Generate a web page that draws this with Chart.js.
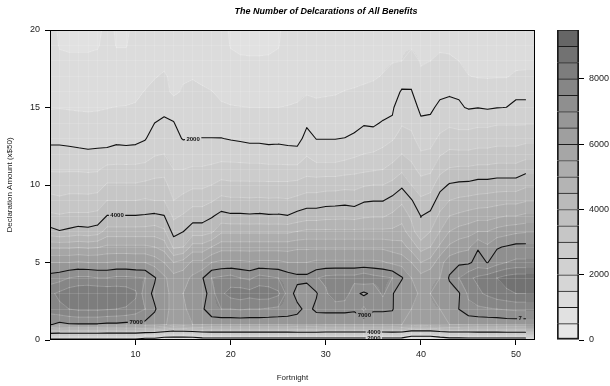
<!DOCTYPE html>
<html>
<head>
<meta charset="utf-8">
<script src="https://cdn.jsdelivr.net/npm/chart.js@4.4.1/dist/chart.umd.min.js"></script>
<style>
  html, body { margin: 0; padding: 0; background: #fff; overflow: hidden; }
  #wrap { position: relative; width: 610px; height: 386px; overflow: hidden; }
  #main { position: absolute; left: 0; top: 0; }
  #key { position: absolute; left: 540px; top: 0; }
</style>
</head>
<body>
<div id="wrap">
  <canvas id="main" width="652" height="386"></canvas>
  <canvas id="key" width="70" height="386"></canvas>
</div>
<script>
// ── Data ──
const fortnights = [1,2,3,4,5,6,7,8,9,10,11,12,13,14,15,16,17,18,19,20,21,22,23,24,25,26,
  27,28,29,30,31,32,33,34,35,36,37,38,39,40,41,42,43,44,45,46,47,48,49,50,51];
const amounts = [0,1,2,3,4,5,6,7,8,9,10,11,12,13,14,15,16,17,18,19,20];

// number of declarations, one row per declaration amount, one value per fortnight
const amt0 = [1700,1700,1700,1700,1700,1700,1700,1700,1700,1700, 1400,1400,1000,1000,1000,1000,1300,1300,1300,1300,
  1300,1300,1300,1300,1300,1300,1300,1300,1300,1300, 1300,1300,1300,1300,1300,1300,1300,1300,600,600,
  600,1000,1300,1300,1300,1300,1300,1300,1300,1300, 1300];
const amt1 = [7050,6850,6950,6950,6950,6950,6900,6900,6850,6850, 6850,6800,6600,6200,6300,6500,6500,6600,6600,6600,
  6600,6600,6600,6600,6600,6600,6700,6700,6650,6550, 6550,6550,6550,6550,6550,6550,6600,6500,6400,6300,
  6400,6450,6500,6500,6550,6600,6600,6600,6650,6650, 6650];
const amt2 = [7700,7900,8000,8100,8100,8100,8050,8000,7950,7800, 7500,7050,6700,6300,6400,6700,6900,7400,7500,7500,
  7550,7500,7500,7450,7400,7350,7150,6850,7100,7150, 7150,7150,7100,7600,7100,7100,7050,6500,6500,6300,
  6400,6500,6500,7010,7350,7400,7450,7500,7550,7600, 7600];
const amt3 = [7900,8100,8300,8400,8450,8450,8400,8350,8300,8100, 7200,6900,6600,6400,6500,6700,6700,7300,7900,8200,
  8300,8200,8300,8300,8100,7300,6800,6700,6950,7400, 7900,7800,7150,6900,7150,7600,7050,6600,6700,6400,
  6500,6800,6800,6950,7600,7900,8100,8300,8400,8500, 8500];
const amt4 = [7200,7300,7500,7600,7600,7500,7500,7600,7600,7550, 7500,7050,6600,6200,6300,6600,6950,7500,7600,7700,
  7500,7400,7700,7600,7500,7300,7150,7150,7450,7650, 7700,7700,7700,7900,7700,7600,7500,7050,6500,6200,
  6400,6500,7050,7500,7900,8100,8300,8500,8700,8800, 8800];
const amt5 = [6500,6500,6500,6550,6500,6500,6500,6550,6550,6500, 6500,6300,6000,5500,5700,6100,6100,6500,6600,6600,
  6600,6550,6600,6600,6600,6500,6500,6500,6600,6600, 6600,6600,6600,6600,6600,6550,6400,6300,6000,5500,
  5700,6300,6800,6900,6900,7200,6980,7300,7500,7600, 7600];
const amt6 = [5400,5400,5400,5450,5400,5450,5600,5600,5600,5600, 5600,5500,5300,4400,4500,5200,5200,5500,5800,5800,
  5800,5800,5800,5800,5800,5800,5900,5900,5900,5900, 5900,5900,5900,5900,5900,5900,5800,5700,5300,4800,
  5000,5600,6100,6300,6400,6950,6600,6950,7050,7150, 7150];
const amt7 = [4150,4030,4100,4200,4150,4250,4700,4700,4700,4700, 4700,4750,4600,3800,3990,4250,4250,4400,4900,4900,
  4900,4900,4900,4900,4900,4900,5000,5100,5100,5100, 5100,5100,5100,5100,5100,5100,5100,5200,4700,4100,
  4500,5000,5500,5700,5800,6000,6000,6200,6300,6400, 6450];
const amt8 = [3600,3550,3600,3600,3600,3650,4020,4020,4020,4020, 4050,4100,4020,3400,3550,3800,3800,3950,4150,4080,
  4080,4060,4080,4050,4060,4020,4150,4250,4250,4320, 4330,4350,4320,4420,4450,4450,4600,4800,4400,3990,
  4150,4600,5000,5100,5200,5300,5300,5400,5500,5500, 5600];
const amt9 = [3150,3100,3150,3150,3150,3200,3500,3500,3500,3500, 3550,3500,3500,3000,3150,3300,3300,3450,3650,3600,
  3600,3580,3600,3570,3580,3550,3650,3750,3750,3800, 3820,3850,3800,3950,3980,3980,4150,4400,4050,3600,
  3700,4250,4500,4600,4650,4700,4750,4800,4850,4850, 4950];
const amt10 = [2800,2750,2800,2800,2780,2800,3050,3050,3050,3050, 3100,3150,3150,2750,2800,2900,2900,3000,3150,3100,
  3100,3100,3100,3100,3100,3100,3150,3250,3250,3300, 3300,3350,3350,3450,3500,3500,3650,3900,3500,3200,
  3300,3800,4050,4100,4120,4200,4200,4250,4250,4250, 4400];
const amt11 = [2450,2450,2450,2450,2430,2450,2650,2650,2650,2650, 2700,2800,2850,2500,2500,2550,2550,2600,2700,2700,
  2700,2680,2680,2650,2650,2650,2650,2800,2750,2750, 2750,2800,2850,2900,2950,3000,3150,3400,3150,2850,
  2900,3350,3550,3600,3600,3650,3650,3700,3700,3700, 3850];
const amt12 = [2180,2180,2150,2120,2090,2110,2130,2200,2180,2200, 2250,2450,2500,2300,2300,2300,2300,2300,2300,2280,
  2250,2230,2230,2200,2200,2160,2150,2450,2200,2200, 2200,2300,2400,2500,2550,2650,2800,3000,2850,2550,
  2600,2950,3100,3100,3100,3150,3150,3200,3200,3200, 3300];
const amt13 = [1870,1870,1850,1820,1800,1810,1820,1870,1850,1870, 1970,2200,2300,2150,1970,2010,2010,2010,2010,1970,
  1940,1900,1900,1870,1890,1870,1850,2140,1990,1990, 1990,2010,2060,2150,2150,2300,2450,2700,2600,2300,
  2300,2600,2750,2700,2700,2750,2750,2800,2800,2800, 2850];
const amt14 = [1620,1620,1610,1600,1600,1600,1610,1630,1630,1650, 1750,2000,2080,2020,1780,1800,1800,1800,1780,1750,
  1720,1700,1700,1680,1680,1660,1650,1940,1780,1780, 1780,1800,1900,1970,1950,2030,2040,2450,2400,2080,
  2050,2300,2400,2350,2350,2400,2400,2450,2450,2450, 2450];
const amt15 = [1480,1490,1480,1470,1460,1470,1490,1510,1520,1540, 1600,1800,1880,1800,1640,1660,1660,1620,1540,1520,
  1510,1500,1500,1500,1500,1510,1520,1580,1560,1570, 1580,1610,1640,1680,1720,1850,1960,2200,2200,1900,
  1960,2050,2100,2060,1960,1990,1950,1990,2005,2080, 2080];
const amt16 = [1370,1300,1260,1240,1250,1280,1340,1340,1360,1420, 1520,1600,1650,1400,1560,1580,1560,1510,1440,1400,
  1380,1370,1370,1380,1400,1430,1460,1480,1460,1470, 1480,1510,1530,1560,1600,1660,1800,2050,2030,1700,
  1730,1950,1960,1940,1700,1720,1700,1720,1740,1920, 1920];
const amt17 = [1270,1150,1130,1120,1120,1140,1220,1150,1160,1250, 1380,1480,1540,1420,1440,1480,1420,1380,1300,1180,
  1150,1140,1140,1150,1170,1260,1310,1350,1350,1360, 1370,1400,1420,1440,1460,1520,1620,1780,1850,1540,
  1580,1700,1660,1620,1510,1480,1470,1480,1480,1560, 1560];
const amt18 = [1200,1060,1050,1050,1050,1060,1150,1060,1060,1150, 1250,1380,1420,1380,1350,1320,1280,1230,1150,1040,
  1020,1020,1020,1020,1040,1150,1220,1270,1270,1270, 1280,1300,1330,1360,1390,1430,1480,1500,1600,1480,
  1500,1560,1540,1500,1420,1400,1380,1380,1380,1400, 1420];
const amt19 = [1150,980,960,960,960,980,1080,990,990,1080, 1200,1300,1350,1300,1280,1250,1200,1150,1080,990,
  970,960,960,970,990,1080,1150,1200,1200,1200, 1200,1220,1250,1280,1300,1350,1400,1470,1470,1420,
  1420,1450,1450,1400,1350,1320,1300,1300,1300,1320, 1330];
const amt20 = [1100,960,930,920,930,960,1050,980,970,1050, 1150,1200,1250,1200,1200,1150,1150,1100,1050,980,
  950,940,940,950,980,1050,1100,1150,1150,1150, 1150,1150,1200,1200,1250,1250,1300,1350,1400,1300,
  1300,1400,1350,1300,1250,1250,1250,1250,1250,1250, 1250];

const declarations = [amt0, amt1, amt2, amt3, amt4, amt5, amt6, amt7, amt8, amt9, amt10,
  amt11, amt12, amt13, amt14, amt15, amt16, amt17, amt18, amt19, amt20];

const levels = [0,500,1000,1500,2000,2500,3000,3500,4000,4500,5000,5500,6000,6500,7000,7500,8000,8500,9000,9500];
const lineLevels = [2000, 4000, 7000];
const keyTicks = [0, 2000, 4000, 6000, 8000];
const xTickLabels = [10, 20, 30, 40, 50];
const yTickLabels = [0, 5, 10, 15, 20];

const contourLabels = [
  { text: '2000', x: 16.05, y: 12.97 },
  { text: '4000', x: 8.05, y: 8.05 },
  { text: '7000', x: 10.05, y: 1.2 },
  { text: '7000', x: 34.05, y: 1.62 },
  { text: '4000', x: 35.05, y: 0.52 },
  { text: '2000', x: 35.05, y: 0.13 },
  { text: '7', x: 50.45, y: 1.45 },
];

// ── Palette (light for few, dark for many) ──
const GAMMA = 2.2;
function bandGray(k, n) {
  const s = Math.pow(0.4, GAMMA), e = Math.pow(0.9, GAMMA);
  return Math.round(255 * Math.pow(e - (e - s) * k / (n - 1), 1 / GAMMA));
}
const bandCount = levels.length - 1;
const bandGrays = levels.slice(0, -1).map((_, k) => bandGray(k, bandCount));
const bandColors = bandGrays.map(g => `rgb(${g},${g},${g})`);

function bandOf(z) {
  for (let k = bandCount - 1; k >= 0; k--) if (z >= levels[k]) return k;
  return 0;
}

// ── Helpers ──
function locate(arr, v) {
  const n = arr.length;
  if (v <= arr[0]) return [0, 0];
  if (v >= arr[n - 1]) return [n - 2, 1];
  let i = 0;
  while (i < n - 2 && v > arr[i + 1]) i++;
  return [i, (v - arr[i]) / (arr[i + 1] - arr[i])];
}

function contourSegments(level) {
  const segs = [];
  const cut = (z1, z2) => ((z1 >= level) !== (z2 >= level)) ? (level - z1) / (z2 - z1) : null;
  for (let j = 0; j < amounts.length - 1; j++) {
    for (let i = 0; i < fortnights.length - 1; i++) {
      const x0 = fortnights[i], x1 = fortnights[i + 1], y0 = amounts[j], y1 = amounts[j + 1];
      const a = declarations[j][i], b = declarations[j][i + 1];
      const c = declarations[j + 1][i + 1], d = declarations[j + 1][i];
      const p = {};
      let t;
      if ((t = cut(a, b)) !== null) p.B = [x0 + t * (x1 - x0), y0];
      if ((t = cut(b, c)) !== null) p.R = [x1, y0 + t * (y1 - y0)];
      if ((t = cut(d, c)) !== null) p.T = [x0 + t * (x1 - x0), y1];
      if ((t = cut(a, d)) !== null) p.L = [x0, y0 + t * (y1 - y0)];
      const keys = Object.keys(p);
      if (keys.length === 2) {
        segs.push([p[keys[0]], p[keys[1]]]);
      } else if (keys.length === 4) {
        const centre = (a + b + c + d) / 4;
        if ((centre >= level) === (a >= level)) segs.push([p.B, p.R], [p.T, p.L]);
        else segs.push([p.L, p.B], [p.R, p.T]);
      }
    }
  }
  return segs;
}

function strokeSegments(ctx, segs, xs, ys) {
  ctx.beginPath();
  segs.forEach(([p, q]) => {
    ctx.moveTo(xs.getPixelForValue(p[0]), ys.getPixelForValue(p[1]));
    ctx.lineTo(xs.getPixelForValue(q[0]), ys.getPixelForValue(q[1]));
  });
  ctx.stroke();
}

// ── Plugins ──
const filledField = {
  id: 'filledField',
  beforeDraw(chart) {
    const { ctx, chartArea: a, scales: { x, y } } = chart;
    const left = Math.round(a.left), top = Math.round(a.top);
    const w = Math.round(a.right) - left, h = Math.round(a.bottom) - top;
    const img = ctx.createImageData(w, h);
    const cols = [], rows = [];
    for (let i = 0; i < w; i++) cols.push(locate(fortnights, x.getValueForPixel(left + i + 0.5)));
    for (let j = 0; j < h; j++) rows.push(locate(amounts, y.getValueForPixel(top + j + 0.5)));
    for (let j = 0; j < h; j++) {
      const [yj, yt] = rows[j];
      const r0 = declarations[yj], r1 = declarations[yj + 1];
      for (let i = 0; i < w; i++) {
        const [xi, xt] = cols[i];
        const z = (r0[xi] * (1 - xt) + r0[xi + 1] * xt) * (1 - yt) + (r1[xi] * (1 - xt) + r1[xi + 1] * xt) * yt;
        const g = bandGrays[bandOf(z)];
        const o = (j * w + i) * 4;
        img.data[o] = g; img.data[o + 1] = g; img.data[o + 2] = g; img.data[o + 3] = 255;
      }
    }
    ctx.putImageData(img, left, top);
  },
  afterDatasetsDraw(chart) {
    const { ctx, chartArea: a, scales: { x, y } } = chart;
    ctx.save();
    ctx.beginPath();
    ctx.rect(a.left, a.top, a.right - a.left, a.bottom - a.top);
    ctx.clip();
    ctx.lineCap = 'round';
    ctx.lineJoin = 'round';

    // faint seams along every band edge
    ctx.strokeStyle = 'rgba(255,255,255,0.28)';
    ctx.lineWidth = 0.7;
    levels.slice(1).forEach(l => {
      if (!lineLevels.includes(l)) strokeSegments(ctx, contourSegments(l), x, y);
    });

    // labelled contour lines, broken where the labels sit
    ctx.font = 'bold 6px "Liberation Sans", Arial, sans-serif';
    const boxes = contourLabels.map(lb => {
      const tw = ctx.measureText(lb.text).width;
      return { ...lb, px: x.getPixelForValue(lb.x), py: y.getPixelForValue(lb.y), w: tw + 3, h: 6 };
    });
    ctx.save();
    ctx.beginPath();
    ctx.rect(a.left, a.top, a.right - a.left, a.bottom - a.top);
    boxes.forEach(b => ctx.rect(b.px - b.w / 2, b.py - b.h / 2, b.w, b.h));
    ctx.clip('evenodd');
    ctx.strokeStyle = '#111';
    ctx.lineWidth = 1.1;
    lineLevels.forEach(l => strokeSegments(ctx, contourSegments(l), x, y));
    ctx.restore();

    ctx.fillStyle = '#111';
    ctx.textAlign = 'center';
    ctx.textBaseline = 'middle';
    boxes.forEach(b => ctx.fillText(b.text, b.px, b.py + 0.5));
    ctx.restore();
  },
  afterDraw(chart) {
    const { ctx, chartArea: a } = chart;
    ctx.save();
    ctx.strokeStyle = '#000';
    ctx.lineWidth = 1;
    ctx.strokeRect(a.left + 0.5, a.top + 0.5, a.right - a.left - 1, a.bottom - a.top - 1);
    ctx.restore();
  }
};

// ── Charts ──
Chart.defaults.font.family = '"Liberation Sans", Arial, sans-serif';
Chart.defaults.color = '#222';

const seamColor = 'rgba(255,255,255,0.13)';

new Chart(document.getElementById('main'), {
  type: 'scatter',
  data: { datasets: [{ data: [] }] },
  plugins: [filledField],
  options: {
    responsive: false,
    animation: false,
    events: [],
    plugins: {
      legend: { display: false },
      tooltip: { enabled: false },
      title: {
        display: true,
        text: 'The Number of Delcarations of All Benefits',
        color: '#000',
        font: { size: 9, style: 'italic', weight: 'bold' },
        padding: { top: 6, bottom: 13.2 }
      }
    },
    scales: {
      x: {
        type: 'linear', min: 1, max: 52,
        afterBuildTicks: s => { s.ticks = fortnights.map(v => ({ value: v })); },
        afterFit: s => { s.height = 46; },
        border: { display: false },
        grid: {
          color: seamColor,
          tickLength: 5,
          tickColor: c => xTickLabels.includes(c.tick && c.tick.value) ? '#000' : 'rgba(0,0,0,0)'
        },
        ticks: {
          autoSkip: false, maxRotation: 0, padding: 4, font: { size: 9 },
          callback: v => xTickLabels.includes(v) ? String(v) : ''
        },
        title: { display: true, text: 'Fortnight', color: '#222', font: { size: 8 }, padding: { top: 0, bottom: 3 } }
      },
      y: {
        type: 'linear', min: 0, max: 20,
        afterBuildTicks: s => { s.ticks = amounts.map(v => ({ value: v })); },
        afterFit: s => { s.width = 50; },
        border: { display: false },
        grid: {
          color: seamColor,
          tickLength: 5,
          tickColor: c => yTickLabels.includes(c.tick && c.tick.value) ? '#000' : 'rgba(0,0,0,0)'
        },
        ticks: {
          autoSkip: false, padding: 5, font: { size: 9 },
          callback: v => yTickLabels.includes(v) ? String(v) : ''
        },
        title: { display: true, text: 'Declaration Amount (x$50)', color: '#222', font: { size: 8 }, padding: { top: 5, bottom: 0 } }
      },
      // empty box on the right that keeps room for the colour key
      spacer: {
        type: 'linear', position: 'right', display: true,
        afterFit: s => { s.width = 117; },
        border: { display: false },
        grid: { display: false, drawTicks: false },
        ticks: { display: false }
      }
    }
  }
});

// colour key
new Chart(document.getElementById('key'), {
  type: 'bar',
  data: {
    labels: [''],
    datasets: bandColors.map((c, k) => ({
      data: [levels[k + 1] - levels[k]],
      backgroundColor: c,
      borderColor: '#1b1b1b',
      borderWidth: { top: 1, left: 2, right: 2, bottom: 2 },
      borderSkipped: k === 0 ? false : 'start',
      categoryPercentage: 1,
      barPercentage: 1
    }))
  },
  options: {
    responsive: false,
    animation: false,
    events: [],
    layout: { padding: { left: 17, top: 30, bottom: 46, right: 0 } },
    plugins: { legend: { display: false }, tooltip: { enabled: false } },
    scales: {
      x: { stacked: true, display: false },
      y: {
        stacked: true, position: 'right', min: 0, max: levels[levels.length - 1],
        afterBuildTicks: s => { s.ticks = keyTicks.map(v => ({ value: v })); },
        afterFit: s => { s.width = 31; },
        border: { display: false },
        grid: { drawOnChartArea: false, tickLength: 5, tickColor: '#000' },
        ticks: { padding: 5, font: { size: 9 }, callback: v => String(v) }
      }
    }
  }
});
</script>
</body>
</html>
